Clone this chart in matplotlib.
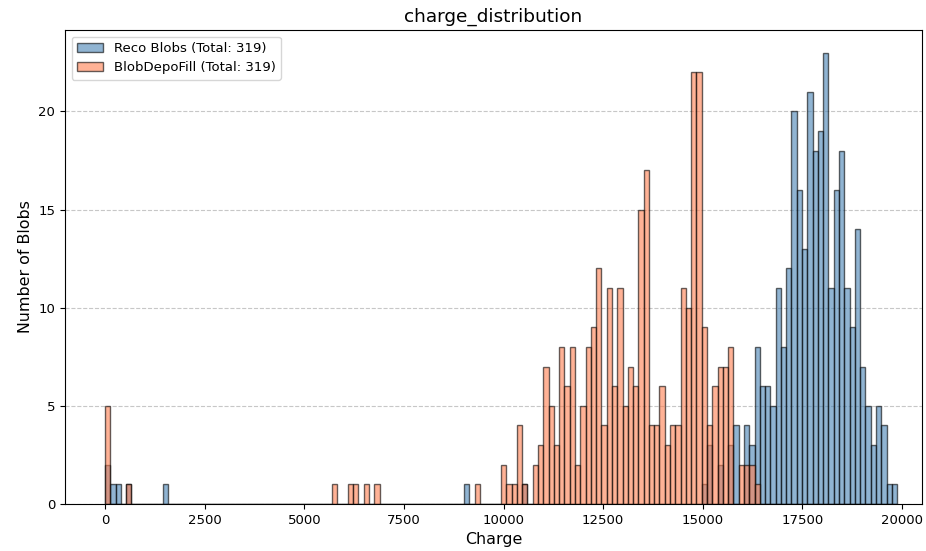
import numpy as np
import matplotlib
matplotlib.use("Agg")
import matplotlib.pyplot as plt

# Histogram binning (150 equal bins)
BIN_MIN = 0.0
BIN_MAX = 19875.0
N_BINS = 150

# Counts per bin, 10 bins per row
reco_counts = [
    2, 1, 1, 0, 1, 0, 0, 0, 0, 0,
    0, 1, 0, 0, 0, 0, 0, 0, 0, 0,
    0, 0, 0, 0, 0, 0, 0, 0, 0, 0,
    0, 0, 0, 0, 0, 0, 0, 0, 0, 0,
    0, 0, 0, 0, 0, 0, 0, 0, 0, 0,
    0, 0, 0, 0, 0, 0, 0, 0, 0, 0,
    0, 0, 0, 0, 0, 0, 0, 0, 1, 0,
    0, 0, 0, 0, 0, 0, 0, 0, 0, 1,
    0, 0, 0, 0, 0, 0, 0, 0, 0, 0,
    0, 0, 0, 0, 0, 0, 0, 0, 0, 0,
    0, 0, 0, 0, 0, 0, 0, 0, 0, 0,
    0, 0, 0, 1, 3, 0, 2, 0, 3, 4,
    0, 4, 3, 8, 6, 6, 5, 11, 8, 12,
    20, 16, 13, 21, 18, 19, 23, 11, 16, 18,
    11, 9, 14, 7, 5, 3, 5, 4, 1, 1,
]

depofill_counts = [
    5, 0, 0, 0, 1, 0, 0, 0, 0, 0,
    0, 0, 0, 0, 0, 0, 0, 0, 0, 0,
    0, 0, 0, 0, 0, 0, 0, 0, 0, 0,
    0, 0, 0, 0, 0, 0, 0, 0, 0, 0,
    0, 0, 0, 1, 0, 0, 1, 1, 0, 1,
    0, 1, 0, 0, 0, 0, 0, 0, 0, 0,
    0, 0, 0, 0, 0, 0, 0, 0, 0, 0,
    1, 0, 0, 0, 0, 2, 1, 1, 4, 1,
    0, 2, 3, 7, 5, 3, 8, 6, 8, 2,
    5, 8, 9, 12, 4, 11, 6, 11, 5, 7,
    6, 15, 17, 4, 4, 6, 3, 4, 4, 11,
    10, 22, 22, 9, 4, 6, 7, 7, 8, 0,
    2, 2, 2, 1, 0, 0, 0, 0, 0, 0,
    0, 0, 0, 0, 0, 0, 0, 0, 0, 0,
    0, 0, 0, 0, 0, 0, 0, 0, 0, 0,
]

edges = np.linspace(BIN_MIN, BIN_MAX, N_BINS + 1)
centers = 0.5 * (edges[:-1] + edges[1:])

# reference looks rendered a touch smaller than default sizes
plt.rcParams["font.size"] = 9.5

fig = plt.figure(figsize=(9.26, 5.51), dpi=100)
ax = fig.add_axes([65 / 926, 47 / 551, 857 / 926, 474 / 551])

ax.hist(centers, bins=edges, weights=reco_counts, color="steelblue", alpha=0.6,
        edgecolor="black", linewidth=1.0,
        label=f"Reco Blobs (Total: {int(sum(reco_counts))})")
ax.hist(centers, bins=edges, weights=depofill_counts, color="coral", alpha=0.6,
        edgecolor="black", linewidth=1.0,
        label=f"BlobDepoFill (Total: {int(sum(depofill_counts))})")

ax.set_xlim(-1004, 20500)
ax.set_ylim(0, 24.15)
ax.set_title("charge_distribution", fontsize=13.3)
ax.set_xlabel("Charge", fontsize=11.4)
ax.set_ylabel("Number of Blobs", fontsize=11.4)
ax.grid(axis="y", linestyle="--", alpha=0.7)
ax.set_axisbelow(True)
ax.legend(loc="upper left", fontsize=9.5)

fig.savefig("out.png", dpi=100)
